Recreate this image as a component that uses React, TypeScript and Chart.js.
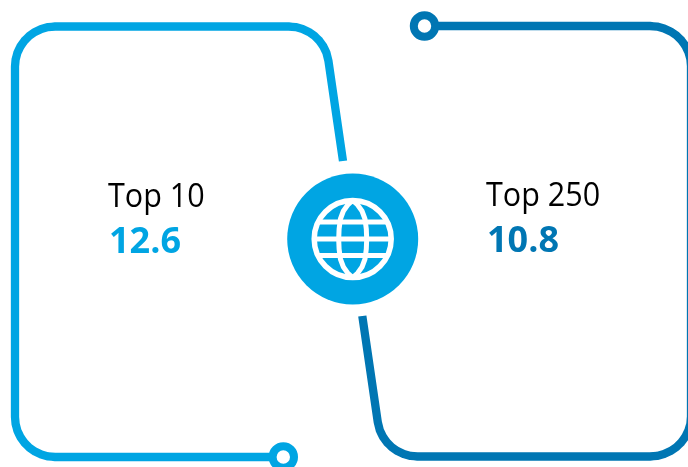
import React, { useEffect, useRef } from "react";
import { Chart, registerables } from "chart.js";

Chart.register(...registerables);

type Pt = { x: number; y: number };
const pts = (list: number[][]): Pt[] => list.map(([x, y]) => ({ x, y }));

const categories = ["Top 10", "Top 250"];
const values = [12.6, 10.8];
const labelAnchors = [
  [108, 207, 253],
  [486, 206, 252],
];
const lightBlue = "#00A5E3";
const darkBlue = "#0076B3";
const seriesColors = [lightBlue, darkBlue];

const leftPath = [
  [283, 457], [55, 457], [48.1, 456.4], [41.3, 454.6], [35, 451.6], [29.3, 447.6], [24.4, 442.7],
  [20.4, 437], [17.4, 430.7], [15.6, 423.9], [15, 417], [15, 66.5], [15.6, 59.6], [17.4, 52.8],
  [20.4, 46.5], [24.4, 40.8], [29.3, 35.9], [35, 31.9], [41.3, 28.9], [48.1, 27.1], [55, 26.5],
  [288.8, 26.5], [295.7, 27.1], [302.5, 28.9], [308.8, 31.9], [314.5, 35.9], [319.4, 40.8],
  [323.4, 46.5], [326.4, 52.8], [328.4, 60.7], [343, 161],
];
const rightPath = [
  [424.5, 26], [650, 26], [657.1, 26.6], [664, 28.4], [670.5, 31.4], [676.4, 35.4], [681.4, 40.3],
  [685.5, 46], [688.5, 52.3], [690.4, 59.1], [691, 66], [691, 416.5], [690.4, 423.9], [688.5, 430.2],
  [685.5, 436.5], [681.4, 442.2], [676.4, 447.1], [670.5, 451.1], [664, 454.1], [657.1, 455.9],
  [650, 456.5], [417.4, 456.5], [410.5, 455.9], [403.7, 454.1], [397.4, 451.1], [391.7, 447.1],
  [386.8, 442.2], [382.8, 436.5], [379.8, 430.2], [377.8, 422.3], [362.3, 316],
];
const leftRing = [[283.3, 457]];
const rightRing = [[424.5, 26]];
const hub = [[352.7, 239]];
const globeLatitudes = [
  [[318.2, 222], [387.2, 222]],
  [[314.2, 239], [391.2, 239]],
  [[318.2, 255.5], [387.2, 255.5]],
];
const globeMeridian = [
  [352.7, 200.5], [357.7, 205], [362, 211], [365, 219], [366.3, 229], [366.7, 239],
  [366.3, 249], [365, 259], [362, 267], [357.7, 273], [352.7, 277.5], [347.7, 273],
  [343.4, 267], [340.4, 259], [339.1, 249], [338.7, 239], [339.1, 229], [340.4, 219],
  [343.4, 211], [347.7, 205], [352.7, 200.5],
];

const textPlugin = {
  id: "labels",
  afterDatasetsDraw(chart: any) {
    const { ctx, scales } = chart;
    categories.forEach((c, i) => {
      const [x, yLabel, yValue] = labelAnchors[i];
      ctx.save();
      ctx.textAlign = "left";
      ctx.textBaseline = "alphabetic";
      ctx.translate(scales.x.getPixelForValue(x), scales.y.getPixelForValue(yLabel));
      ctx.scale(0.925, 1);
      ctx.fillStyle = "#000000";
      ctx.font = '33px "Open Sans"';
      ctx.fillText(c, 0, 0);
      ctx.restore();
      ctx.save();
      ctx.textAlign = "left";
      ctx.textBaseline = "alphabetic";
      ctx.fillStyle = seriesColors[i];
      ctx.font = 'bold 36px "Open Sans"';
      ctx.fillText(values[i].toFixed(1), scales.x.getPixelForValue(x + 1), scales.y.getPixelForValue(yValue));
      ctx.restore();
    });
  },
};

const lineDs = (data: number[][], color: string, width: number) => ({
  data: pts(data),
  showLine: true,
  borderColor: color,
  borderWidth: width,
  borderJoinStyle: "round",
  borderCapStyle: "butt",
  pointRadius: 0,
  tension: 0.001,
  capBezierPoints: false,
  fill: false,
});
const pointDs = (data: number[][], bg: string, border: string, r: number, bw: number) => ({
  data: pts(data),
  showLine: false,
  backgroundColor: bg,
  borderColor: border,
  pointBackgroundColor: bg,
  pointBorderColor: border,
  pointRadius: r,
  pointBorderWidth: bw,
});

export default function App() {
  const ref = useRef<HTMLCanvasElement>(null);
  useEffect(() => {
    document.body.style.margin = "0";
    const chart = new Chart(ref.current as HTMLCanvasElement, {
      type: "scatter",
      data: {
        datasets: [
          pointDs(rightRing, "#FFFFFF", darkBlue, 10.7, 8),
          pointDs(leftRing, "#FFFFFF", lightBlue, 10.7, 8),
          ...globeLatitudes.map((l) => lineDs(l, "#FFFFFF", 5)),
          lineDs(globeMeridian, "#FFFFFF", 5),
          pointDs(hub, "rgba(0,0,0,0)", "#FFFFFF", 38.5, 5.5),
          pointDs(hub, lightBlue, lightBlue, 65.5, 0),
          lineDs(leftPath, lightBlue, 8.3),
          lineDs(rightPath, darkBlue, 8.3),
        ] as any,
      },
      options: {
        animation: false,
        responsive: false,
        events: [],
        layout: { padding: 0, autoPadding: false },
        plugins: { legend: { display: false }, tooltip: { enabled: false } },
        scales: {
          x: { type: "linear", min: 0, max: 688, display: false },
          y: { type: "linear", min: 0, max: 467, reverse: true, display: false },
        },
      } as any,
      plugins: [textPlugin],
    });
    return () => chart.destroy();
  }, []);
  return (
    <canvas
      ref={ref}
      width={688}
      height={467}
      style={{ position: "fixed", left: 0, top: 0, width: 688, height: 467, display: "block" }}
    />
  );
}
